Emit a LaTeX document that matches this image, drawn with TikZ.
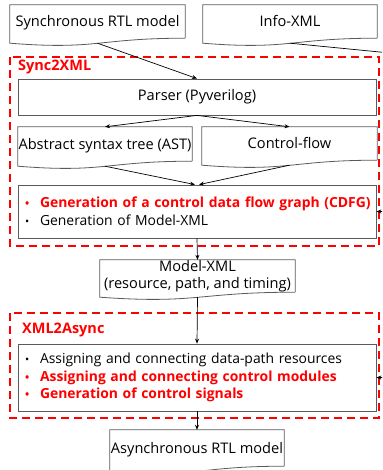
\documentclass[tikz,border=0pt]{standalone}
\usepackage{fontspec}
\setmainfont{Open Sans}
\usepackage{tikz}
\usetikzlibrary{arrows.meta, calc}
\usepackage{xcolor}

\definecolor{flowred}{RGB}{255,0,0}
\definecolor{boxgray}{RGB}{90,90,90}

% wavy bottom of a document node, and a coordinate at the middle of the wave
\newcommand{\docframe}[1]{%
  \draw[boxgray, line width=0.8pt] (#1.south east) -- (#1.north east) -- (#1.north west)
    -- ($(#1.south west)+(0,5)$)
    .. controls ($(#1.south)+(0,12)$) and (#1.south) .. (#1.south east);
  \coordinate (#1w) at ($(#1.south)+(0,5)$);
}
\newcommand{\bul}[1]{\mbox{\makebox[15pt][l]{\scalebox{0.8}{•}}#1}}

\begin{document}
\begin{tikzpicture}[x=1pt, y=-1pt,
  doc/.style={inner sep=0pt, font=\fontsize{14.6}{17}\selectfont, align=center},
  low/.style={text height=13pt, text depth=2pt},
  box/.style={draw=boxgray, line width=0.8pt, inner sep=0pt, font=\fontsize{14.6}{17}\selectfont},
  listbox/.style={box, minimum width=358, text width=344, inner xsep=7pt, align=left,
    font=\fontsize{13.9}{17.5}\selectfont},
  stage/.style={draw=flowred, line width=2.2pt, dash pattern=on 8pt off 5pt},
  stagelabel/.style={anchor=west, text=flowred, font=\fontsize{14.5}{16}\selectfont\bfseries, inner sep=0pt},
  flow/.style={-{Stealth[length=5pt, width=4pt]}, line width=0.7pt}
]
  \useasboundingbox (0,0) rectangle (382,470);
  \clip (0,0) rectangle (382,470);

  % input documents
  \node[doc, low, minimum width=175, minimum height=33] (sync) at (97.5,21.5) {Synchronous RTL model};
  \node[doc, low, minimum width=174, minimum height=33] (info) at (290,21.5) {Info-XML};
  \docframe{sync}
  \docframe{info}

  % Sync2XML stage
  \draw[stage] (10,57) rectangle (379,246);
  \node[stagelabel] (lbl1) at (18,67) {Sync2XML};
  \node[box, minimum width=358, minimum height=36] (parser) at (197,97) {Parser (Pyverilog)};
  \node[doc, low, minimum width=174, minimum height=34] (ast) at (105,144) {Abstract syntax tree (AST)};
  \node[doc, low, minimum width=175, minimum height=33] (cflow) at (289.5,143.5) {Control-flow};
  \docframe{ast}
  \docframe{cflow}
  \node[listbox, minimum height=53] (cdfg) at (197,211.5)
    {{\color{flowred}\bfseries\bul{Generation of a control data flow graph (CDFG)}}\\
     \bul{Generation of Model-XML}};

  \node[doc, minimum width=195, minimum height=32] (mxml) at (197.5,276)
    {Model-XML\\(resource, path, and timing)};
  \docframe{mxml}

  % XML2Async stage
  \draw[stage] (10,313) rectangle (379,418);
  \node[stagelabel] (lbl2) at (22,330) {XML2Async};
  \node[listbox, minimum height=67] (asgn) at (197,377.5)
    {\bul{Assigning and connecting data-path resources}\\
     {\color{flowred}\bfseries\bul{Assigning and connecting control modules}}\\
     {\color{flowred}\bfseries\bul{Generation of control signals}}};

  \node[doc, low, minimum width=174, minimum height=36] (artl) at (197,448) {Asynchronous RTL model};
  \docframe{artl}

  % connectors
  \coordinate (rail) at (395,53.5);
  \draw[flow] (syncw) -- (parser.north);
  \draw[line width=0.7pt] (infow) -- (rail);
  \draw[flow] (rail) |- (cdfg.east);
  \draw[flow] (rail) |- (asgn.east);
  \draw[flow] (parser.south) -- (ast.north);
  \draw[flow] (parser.south) -- (cflow.north);
  \draw[flow] (astw) -- ([xshift=-2pt]cdfg.north);
  \draw[flow] (cfloww) -- ([xshift=2pt]cdfg.north);
  \draw[flow] (cdfg.south) -- (mxml.north);
  \draw[flow] (mxmlw) -- (asgn.north);
  \draw[flow] (asgn.south) -- (artl.north);
\end{tikzpicture}
\end{document}
